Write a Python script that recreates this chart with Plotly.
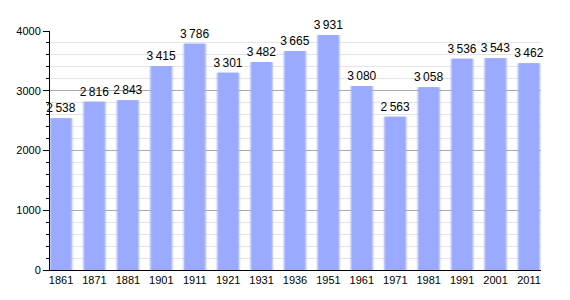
import plotly.graph_objects as go

years = ["1861", "1871", "1881", "1901", "1911", "1921", "1931", "1936", "1951",
         "1961", "1971", "1981", "1991", "2001", "2011"]
population = [2538, 2816, 2843, 3415, 3786, 3301, 3482, 3665, 3931,
              3080, 2563, 3058, 3536, 3543, 3462]
labels = [f"{v // 1000}\u2009{v % 1000:03d}" for v in population]

xs = list(range(len(years)))
fig = go.Figure()
# soft edges: wider, fainter bars behind the main one
for w, op in [(0.74, 0.18), (0.68, 0.35), (0.64, 0.6)]:
    fig.add_trace(go.Bar(x=xs, y=population, width=w, marker=dict(color="#99AAFF", line=dict(width=0)),
                         opacity=op, hoverinfo="skip", showlegend=False))
fig.add_trace(go.Bar(x=xs, y=population, width=0.58,
                     marker=dict(color="#99AAFF", line=dict(width=0)),
                     text=labels, textposition="outside", cliponaxis=False,
                     constraintext="none", textangle=0,
                     textfont=dict(family="Liberation Sans, Arial", size=12, color="black"),
                     showlegend=False))

fig.update_layout(
    width=570, height=300, barmode="overlay",
    margin=dict(l=50, r=29, t=31, b=30),
    plot_bgcolor="white", paper_bgcolor="white",
    font=dict(family="Liberation Sans, Arial", size=11, color="black"),
    xaxis=dict(tickmode="array", tickvals=xs, ticktext=years, range=[-0.33, 14.36],
               showline=True, linecolor="black", linewidth=1, ticks="", showgrid=False,
               zeroline=False, tickfont=dict(size=11)),
    yaxis=dict(range=[0, 4000], dtick=1000, showgrid=True, gridcolor="#aaaaaa", gridwidth=1,
               showline=True, linecolor="black", linewidth=1, ticks="outside", ticklen=6,
               tickcolor="black", zeroline=False, tickfont=dict(size=11),
               minor=dict(dtick=200, showgrid=True, gridcolor="#e4e4e4", ticks="outside",
                          ticklen=3, tickcolor="black")),
)
fig.write_html("out.html")
